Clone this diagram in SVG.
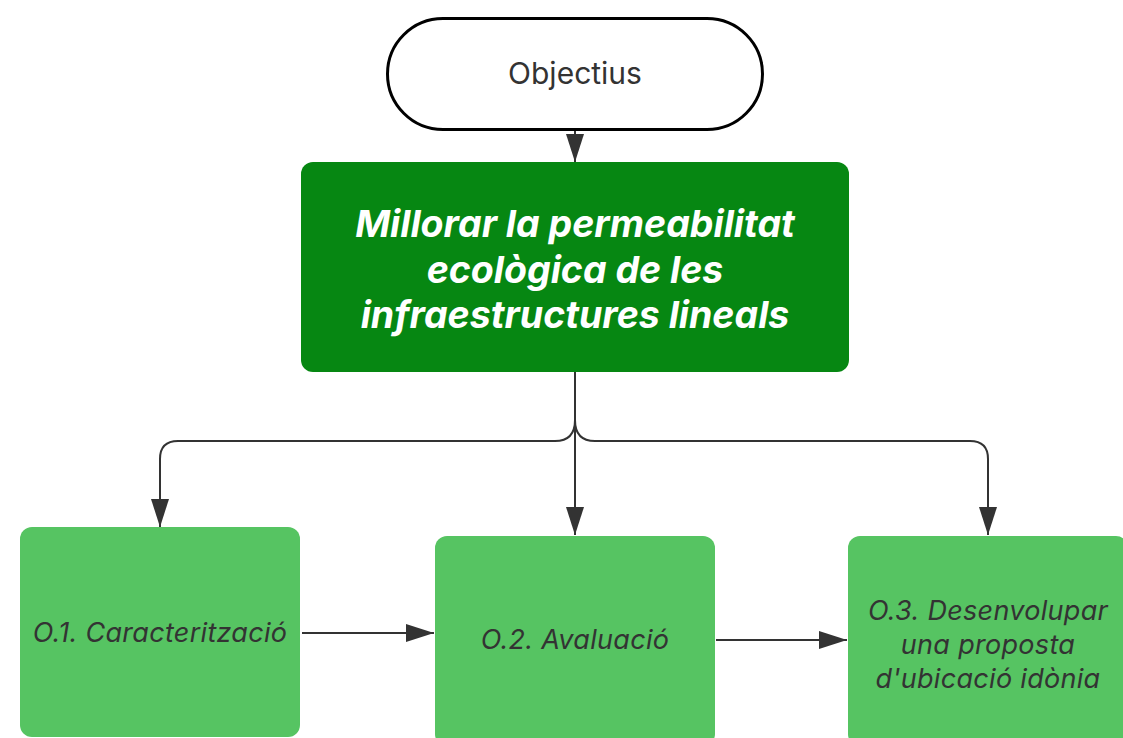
<svg xmlns="http://www.w3.org/2000/svg" width="1123" height="738" viewBox="0 0 1123 738">
<style>
.conn{fill:none;stroke:#333333;stroke-width:2}
.t-top{font-family:Inter,"Liberation Sans",sans-serif;font-size:30px;fill:#333333}
.t-main{font-family:Inter,"Liberation Sans",sans-serif;font-size:37.5px;font-weight:bold;font-style:italic;fill:#ffffff}
.t-sub{font-family:Inter,"Liberation Sans",sans-serif;font-size:27px;letter-spacing:0.3px;font-style:italic;fill:#333333}
.sub{fill:#56c462}
</style>
<defs>
<marker id="ah" markerUnits="userSpaceOnUse" markerWidth="28" markerHeight="18" refX="28" refY="9" orient="auto">
<path d="M0,0 L28,9 L0,18 z" fill="#333333"/>
</marker>
</defs>
<rect width="1123" height="738" fill="#ffffff"/>
<g id="connectors">
<path class="conn" d="M575,130 L575,162" marker-end="url(#ah)"/>
<path class="conn" d="M575,372 L575,420 Q575,441 555,441 L178,441 Q160,441 160,459 L160,527" marker-end="url(#ah)"/>
<path class="conn" d="M575,372 L575,535" marker-end="url(#ah)"/>
<path class="conn" d="M575,420 Q575,441 595,441 L970,441 Q988,441 988,459 L988,535" marker-end="url(#ah)"/>
<path class="conn" d="M302,633 L434,633" marker-end="url(#ah)"/>
<path class="conn" d="M716,640 L847,640" marker-end="url(#ah)"/>
</g>
<g id="objectius">
<rect x="387.5" y="18.5" width="375" height="111" rx="55.5" fill="#ffffff" stroke="#000000" stroke-width="3"/>
<text class="t-top" x="575" y="84" text-anchor="middle">Objectius</text>
</g>
<g id="millorar">
<rect x="301" y="162" width="548" height="210" rx="12" fill="#068712"/>
<text class="t-main" text-anchor="middle"><tspan x="575" y="237">Millorar la permeabilitat</tspan><tspan x="575" y="283">ecològica de les</tspan><tspan x="575" y="328">infraestructures lineals</tspan></text>
</g>
<g id="o1">
<rect class="sub" x="20" y="527" width="280" height="210" rx="12"/>
<text class="t-sub" x="160" y="642" text-anchor="middle">O.1. Caracterització</text>
</g>
<g id="o2">
<rect class="sub" x="435" y="536" width="280" height="210" rx="12"/>
<text class="t-sub" x="575" y="649" text-anchor="middle">O.2. Avaluació</text>
</g>
<g id="o3">
<rect class="sub" x="848" y="536" width="280" height="210" rx="12"/>
<text class="t-sub" text-anchor="middle"><tspan x="988" y="620">O.3. Desenvolupar</tspan><tspan x="988" y="654">una proposta</tspan><tspan x="988" y="688">d'ubicació idònia</tspan></text>
</g>
</svg>
